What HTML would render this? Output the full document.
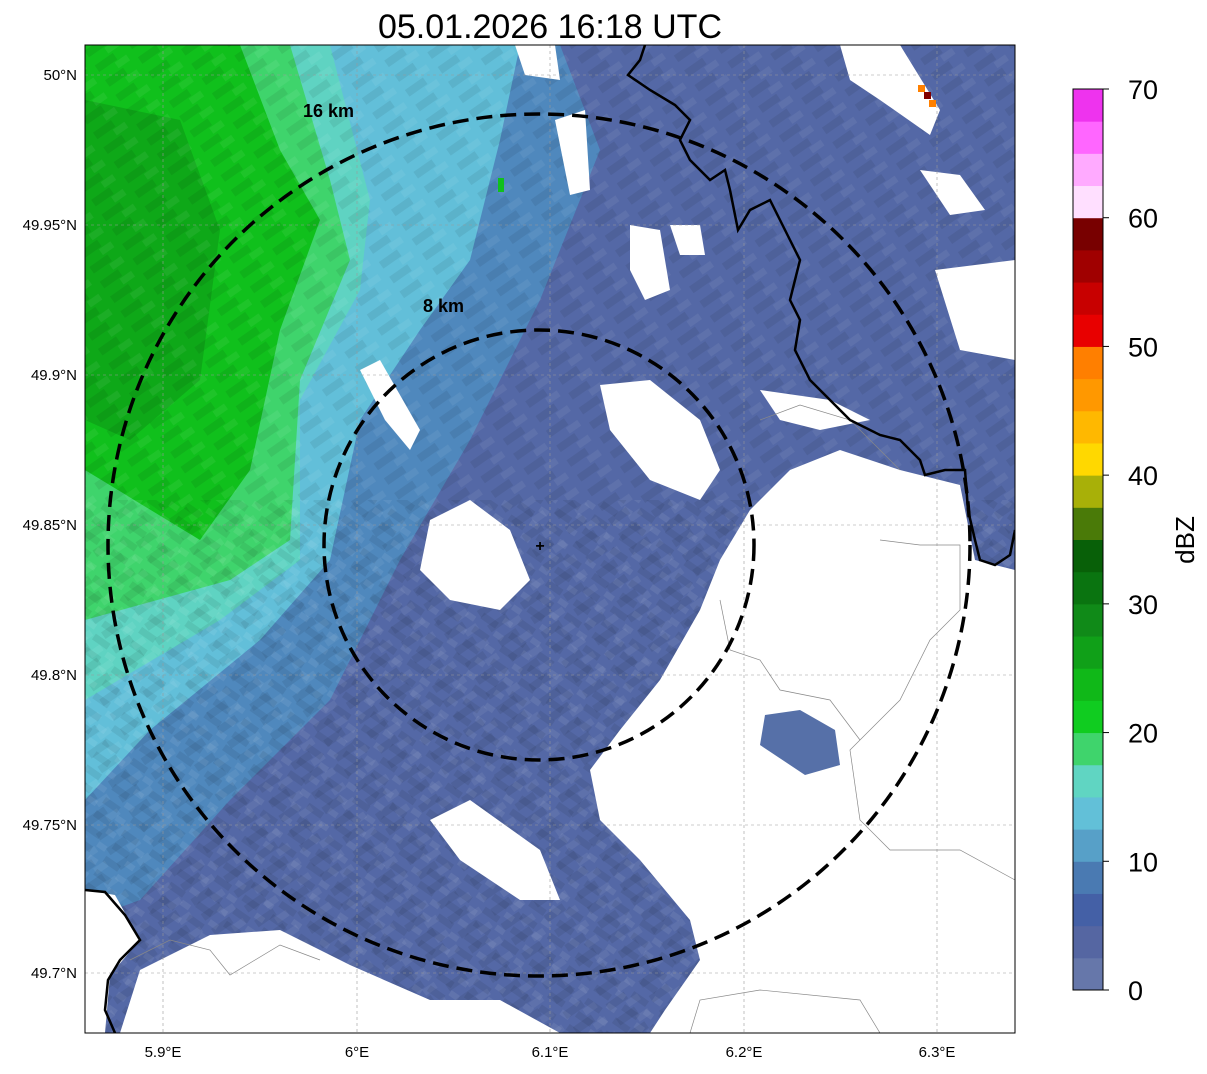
<!DOCTYPE html>
<html><head><meta charset="utf-8"><style>
body{margin:0;background:#fff;font-family:"Liberation Sans","DejaVu Sans",sans-serif}
</style></head><body>
<svg width="1207" height="1069" viewBox="0 0 1207 1069" xmlns="http://www.w3.org/2000/svg">
<defs>
<clipPath id="mapclip"><rect x="85" y="45" width="930" height="988"/></clipPath>
<pattern id="streak" width="40" height="18" patternUnits="userSpaceOnUse" patternTransform="rotate(-35)">
<rect x="0" y="0" width="22" height="8" fill="#000" opacity="0.07"/>
<rect x="18" y="9" width="14" height="7" fill="#fff" opacity="0.06"/>
</pattern>
<pattern id="streak2" width="34" height="16" patternUnits="userSpaceOnUse" patternTransform="rotate(35)">
<rect x="0" y="0" width="18" height="7" fill="#000" opacity="0.07"/>
<rect x="20" y="8" width="10" height="6" fill="#fff" opacity="0.07"/>
</pattern>
</defs>
<text x="550" y="38" font-size="34" text-anchor="middle">05.01.2026 16:18 UTC</text>
<g clip-path="url(#mapclip)">
<rect x="85" y="45" width="930" height="988" fill="#5468a6"/>
<polygon fill="#4f88bd" points="85,45 560,45 600,150 540,300 470,440 400,560 330,700 230,800 140,900 85,920"/>
<polygon fill="#62bfd9" points="85,45 520,45 500,140 470,260 420,330 360,420 330,560 260,640 150,730 85,800"/>
<polygon fill="#5fd3c2" points="85,45 330,45 370,200 360,290 300,400 300,560 220,620 85,700"/>
<polygon fill="#3fd46c" points="85,45 290,45 330,180 350,260 300,380 290,540 230,580 85,620"/>
<polygon fill="#10c01c" points="85,45 240,45 280,150 320,220 280,330 250,470 200,540 85,470"/>
<polygon fill="#0ea818" points="85,100 180,120 220,230 200,380 130,440 85,420"/>
<rect x="85" y="45" width="930" height="988" fill="url(#streak)"/>
<rect x="85" y="500" width="930" height="533" fill="url(#streak2)"/>
<polygon fill="#fff" points="1015,570 975,560 960,485 900,470 840,450 790,470 750,510 720,560 700,610 660,680 620,730 590,770 600,820 640,860 690,920 700,960 665,1010 650,1033 1015,1033"/>
<polygon fill="#fff" points="140,970 210,935 280,930 350,965 430,1000 500,1000 560,1033 120,1033"/>
<polygon fill="#fff" points="430,820 470,800 540,850 560,900 520,900 460,860"/>
<polygon fill="#fff" points="85,890 115,895 140,940 110,975 105,1033 85,1033"/>
<polygon fill="#fff" points="430,520 470,500 510,530 530,580 500,610 450,600 420,570"/>
<polygon fill="#fff" points="600,385 650,380 700,420 720,470 700,500 650,480 610,430"/>
<polygon fill="#fff" points="630,225 660,230 670,290 645,300 630,270"/>
<polygon fill="#fff" points="670,225 700,225 705,255 680,255"/>
<polygon fill="#fff" points="360,370 380,360 420,430 410,450 385,420"/>
<polygon fill="#fff" points="935,270 1015,260 1015,360 960,350"/>
<polygon fill="#fff" points="920,170 960,175 985,210 950,215"/>
<polygon fill="#fff" points="840,45 900,45 940,110 930,135 880,100 850,80"/>
<polygon fill="#fff" points="515,45 555,45 560,80 525,75"/>
<polygon fill="#fff" points="555,120 585,110 590,190 570,195"/>
<polygon fill="#fff" points="760,390 830,400 870,420 820,430 780,420"/>
<polygon fill="#5670a8" points="765,715 800,710 835,730 840,765 805,775 760,745"/>
<rect x="918" y="85" width="7" height="7" fill="#ff8000"/>
<rect x="924" y="92" width="7" height="7" fill="#800000"/>
<rect x="929" y="100" width="7" height="7" fill="#ff8000"/>
<rect x="498" y="178" width="6" height="14" fill="#10c01c"/>
<g stroke="#999" stroke-width="0.6" stroke-dasharray="3,3">
<line x1="163" y1="45" x2="163" y2="1033"/><line x1="357" y1="45" x2="357" y2="1033"/><line x1="550" y1="45" x2="550" y2="1033"/><line x1="744" y1="45" x2="744" y2="1033"/><line x1="937" y1="45" x2="937" y2="1033"/>
<line x1="85" y1="75" x2="1015" y2="75"/><line x1="85" y1="225" x2="1015" y2="225"/><line x1="85" y1="375" x2="1015" y2="375"/><line x1="85" y1="525" x2="1015" y2="525"/><line x1="85" y1="675" x2="1015" y2="675"/><line x1="85" y1="825" x2="1015" y2="825"/><line x1="85" y1="973" x2="1015" y2="973"/>
</g>
<g fill="none" stroke="#888" stroke-width="0.7">
<path d="M760,420 L800,405 L850,420 L900,470"/>
<path d="M880,540 L920,545 L960,545 L960,610 L930,640 L900,700 L850,750 L860,820 L890,850 L960,850 L1015,880"/>
<path d="M720,600 L730,650 L760,660 L780,690 L830,700 L860,740"/>
<path d="M690,1033 L700,1000 L760,990 L860,1000 L880,1033"/>
<path d="M130,960 L170,940 L210,950 L230,975 L280,945 L320,960"/>
</g>
<path fill="none" stroke="#000" stroke-width="2.5" d="M645,45 L640,60 L628,75 L650,90 L675,105 L690,120 L680,140 L690,160 L710,180 L725,170 L730,190 L738,230 L750,210 L770,200 L790,240 L800,260 L790,300 L800,320 L795,350 L810,380 L830,400 L850,420 L880,435 L900,440 L920,460 L925,475 L945,470 L965,470 L968,510 L975,540 L980,560 L995,565 L1010,555 L1015,530"/>
<path fill="none" stroke="#000" stroke-width="2.5" d="M85,890 L105,892 L125,915 L140,940 L120,960 L108,980 L105,1010 L115,1033"/>
<circle cx="539" cy="545" r="431" fill="none" stroke="#000" stroke-width="3.5" stroke-dasharray="16,8"/>
<circle cx="539" cy="545" r="215" fill="none" stroke="#000" stroke-width="3.5" stroke-dasharray="16,8"/>
<text x="303" y="117" font-size="18" font-weight="bold">16 km</text>
<text x="423" y="312" font-size="18" font-weight="bold">8 km</text>
<text x="540" y="551" font-size="16" font-weight="bold" text-anchor="middle">+</text>
</g>
<rect x="85" y="45" width="930" height="988" fill="none" stroke="#000" stroke-width="1"/>
<g font-size="15" text-anchor="end">
<text x="77" y="80">50°N</text><text x="77" y="230">49.95°N</text><text x="77" y="380">49.9°N</text><text x="77" y="530">49.85°N</text><text x="77" y="680">49.8°N</text><text x="77" y="830">49.75°N</text><text x="77" y="978">49.7°N</text>
</g>
<g font-size="15" text-anchor="middle">
<text x="163" y="1057">5.9°E</text><text x="357" y="1057">6°E</text><text x="550" y="1057">6.1°E</text><text x="744" y="1057">6.2°E</text><text x="937" y="1057">6.3°E</text>
</g>
<g id="cbar"></g>
<text transform="translate(1194,540) rotate(-90)" font-size="26" text-anchor="middle">dBZ</text>
<script>
const cbColors=["#6677aa","#5566a2","#4460a6","#4a7ab2","#57a0c8","#62c0d8","#60d5c2","#3fd46c","#10cc20","#10b818","#10a018","#108a18","#0a7410","#086008","#4a7a08","#a8b008","#ffd800","#ffb800","#ff9800","#ff7f00","#e80000","#c80000","#a00000","#780000","#ffdfff","#ffaaff","#ff66ff","#ee33ee"];
const cbTicks=[0,10,20,30,40,50,60,70];
const g=document.getElementById('cbar');
const ns="http://www.w3.org/2000/svg";
const y0=990,y1=89,vmax=70;
const yv=v=>y0-(v/vmax)*(y0-y1);
cbColors.forEach((c,i)=>{
 const r=document.createElementNS(ns,'rect');
 r.setAttribute('x',1073);r.setAttribute('width',30);
 r.setAttribute('y',yv((i+1)*2.5));r.setAttribute('height',yv(i*2.5)-yv((i+1)*2.5)+0.5);
 r.setAttribute('fill',c);
 
 
 g.appendChild(r);
});
const fr=document.createElementNS(ns,'rect');
fr.setAttribute('x',1073);fr.setAttribute('y',y1);fr.setAttribute('width',30);fr.setAttribute('height',y0-y1);
fr.setAttribute('fill','none');fr.setAttribute('stroke','#000');
g.appendChild(fr);
cbTicks.forEach(v=>{
 const l=document.createElementNS(ns,'line');
 l.setAttribute('x1',1103);l.setAttribute('x2',1109);l.setAttribute('y1',yv(v));l.setAttribute('y2',yv(v));l.setAttribute('stroke','#000');
 g.appendChild(l);
 const t=document.createElementNS(ns,'text');
 t.setAttribute('x',1128);t.setAttribute('y',yv(v)+10);t.setAttribute('font-size','27');
 t.textContent=v;
 
 
 g.appendChild(t);
});
</script>
</svg>
</body></html>
